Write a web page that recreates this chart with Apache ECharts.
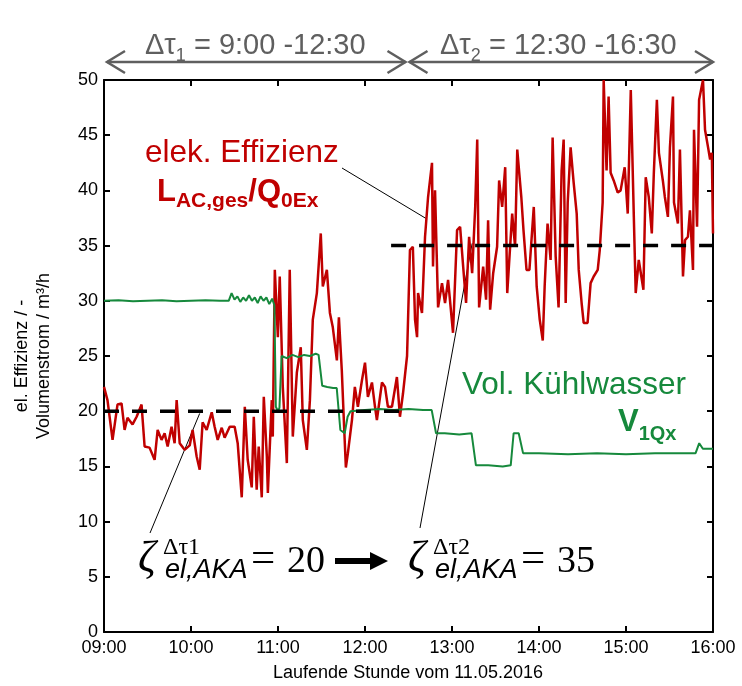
<!DOCTYPE html>
<html>
<head>
<meta charset="utf-8">
<script src="https://cdn.jsdelivr.net/npm/echarts@6/dist/echarts.min.js"></script>
<style>
html,body{margin:0;padding:0;background:#fff;}
#chart{width:742px;height:686px;}
</style>
</head>
<body>
<div id="chart"></div>
<script>
// ---- data ----
const xTickLabels = ['09:00','10:00','11:00','12:00','13:00','14:00','15:00','16:00'];
// minutes after 09:00
const redMin = [0,2.4,5.9,9.3,12.1,14.2,16.2,19.7,22.5,25.9,28,31.4,34.9,37,39.7,41.8,43.9,46.6,48.7,50.1,52.2,55.6,59.1,61.1,63.9,66,68,70.8,74.3,76.3,78.4,81.2,83.2,86.7,90.1,92.2,95,97.1,99.1,101.9,103.3,105.3,106.7,108.8,110.2,112.3,113,115.7,116.4,
117.8,119.9,121.2,123.3,126.1,128.1,130.2,133,135.7,137.1,139.9,142,144,146.8,149.5,150.9,153.7,155.8,157.8,160.6,162,164,165.4,166.8,168.2,171,173,175.1,177.9,180,182,184.8,186.9,188.2,191.7,193.8,195.8,198.6,202,204.1,206.2,
209,211,213,214.5,215.9,216.6,219.3,221.4,223.5,226.2,226.9,228.3,230.4,233.1,235.2,237.3,240.7,243.5,245.6,247.7,249.7,251.8,253.9,256,257.4,258.7,261.5,263.5,264.9,266.3,268.4,271.1,272.5,274.6,
276.7,278.1,281.5,283.5,285,287.8,289.3,291.4,293.4,296.4,298.4,300.5,302.6,303.9,305.9,308,309.4,311.5,313.5,315.6,317,318.4,319.8,321.8,323.9,326,327.4,329.4,330.8,333.5,335.6,337.7,340.5,341.9,343.9,344.6,346.6,348,349.4,351.5,354.3,356.3,359.1,361.2,363.3,365.4,366.7,368.8,372,373.6,375.7,377.8,379.2,381.3,382.7,385.4,386.8,388.9,390.3,392.4,393.1,395.8,397.2,399.3,400.7,402.7,404.1,406.2,406.9,409,410.4,413.1,414.5,416.6,418,419.2,420];
const redVal = [22.2,21.0,17.4,20.6,20.7,18.3,19.4,18.8,19.5,20.6,16.8,16.7,15.6,18.3,17.4,18.0,16.8,18.6,17.1,21.0,17.1,16.5,16.9,18.3,15.9,14.7,19.0,18.3,19.9,18.6,17.4,18.5,17.6,18.6,18.6,17.1,12.2,20.4,15.6,13.1,19.5,12.9,16.8,12.2,21.3,15.9,12.6,21.0,17.7,
32.8,26.7,32.2,22.2,15.3,32.8,17.7,23.5,25.8,19.2,16.5,21.0,28.3,30.7,36.1,31.3,32.8,28.9,27.6,24.6,28.5,23.7,19.2,14.9,16.2,19.2,22.2,20.4,22.8,24.4,21.3,22.6,20.4,19.2,22.6,22.2,20.4,20.4,23.1,19.5,21.6,
25.0,34.6,34.9,28.3,26.7,30.7,28.9,35.8,39.4,42.5,33.1,40.0,29.4,31.6,29.8,31.9,27.1,36.4,36.7,33.1,29.8,35.8,32.5,38.5,44.6,29.4,33.1,30.1,37.3,29.2,32.5,34.9,40.9,38.5,
42.1,30.7,37.9,34.9,43.7,39.4,36.4,32.8,32.8,38.5,31.3,28.3,26.4,31.3,37.0,33.7,44.8,34.0,29.4,41.8,44.6,29.8,38.9,43.9,40.7,37.9,32.8,29.8,28.0,28.0,31.6,32.2,32.8,34.6,38.9,50,41.8,48.5,41.6,40.9,39.8,40.0,42.1,37.9,49.1,37.6,30.7,33.7,31.0,41.2,39.4,36.1,41.6,48.2,43.4,40.9,39.4,37.6,43.9,48.5,38.9,37.0,43.7,32.2,35.5,35.8,38.2,32.8,45.5,36.7,48.2,50,45.5,43.9,42.8,43.4,36.1];

const greenMin = [0,10,20,30,40,50,60,70,80,86,88,90,92,94,96,98,100,102,104,106,108,110,112,114,116,117.5,118.5,120,121,122.5,126,130,134,138,142,146,148,150.5,154,158,160.5,163,166,168,170,180,190,200,210,220,226,229,235,245,253.5,256.5,265,275,280.5,282.5,286,289,300,320,340,360,380,400,408,410.5,413,420];
const greenVal = [30,30.05,29.95,30,30.05,29.95,30,30.05,30,30,30.7,30.1,30.4,29.9,30.3,30.0,30.5,30.0,30.3,29.8,30.4,30.0,30.3,29.7,30.2,29.6,20.4,20.0,20.3,25.0,24.8,25.1,24.9,25.1,25.0,25.2,25.1,22.3,22.2,22.1,22.1,18.3,18.0,19.5,20.0,20.1,20.2,20.1,20.2,20.1,20.1,18.0,18.0,17.9,18.0,15.1,15.1,15.0,15.1,18.0,18.0,16.2,16.2,16.1,16.2,16.1,16.2,16.2,16.2,17.1,16.6,16.6];

const refStart = [0, 198];
const refEnd = [204, 420];
const refVal = [20, 35];

// ---- chart ----
const chart = echarts.init(document.getElementById('chart'), null, {renderer:'canvas'});
const F = 'Liberation Sans, Arial, sans-serif';
const SERIF = 'Liberation Serif, Times New Roman, serif';
const RED = '#c00000', GREEN = '#16893c', GRAY = '#5f5f5f';

const zip = (a,b) => a.map((v,i)=>[v,b[i]]);
const axisCommon = {
  axisLine:{show:true,onZero:false,lineStyle:{color:'#000',width:2}},
  axisTick:{show:true,inside:true,length:6,lineStyle:{color:'#000',width:2}},
  splitLine:{show:false}
};
const refSeries = refVal.map((v,i)=>({
  type:'line', data:[[refStart[i],v],[refEnd[i],v]], showSymbol:false, silent:true,
  lineStyle:{color:'#000',width:3.5,type:[15,13]}, z:5
}));

chart.setOption({
  animation:false,
  grid:{left:104,right:29,top:80,bottom:54,outerBoundsMode:'none'},
  xAxis:[
    Object.assign({type:'value',min:0,max:420,interval:60,position:'bottom',
      axisLabel:{fontFamily:F,fontSize:18,color:'#000',margin:7,formatter:v=>xTickLabels[Math.round(v/60)]}},axisCommon),
    Object.assign({type:'value',min:0,max:420,interval:60,position:'top',axisLabel:{show:false}},axisCommon)
  ],
  yAxis:[
    Object.assign({type:'value',min:0,max:50,interval:5,position:'left',
      axisLabel:{fontFamily:F,fontSize:18,color:'#000',margin:6}},axisCommon),
    Object.assign({type:'value',min:0,max:50,interval:5,position:'right',axisLabel:{show:false}},axisCommon)
  ],
  series:[
    {type:'line',data:zip(redMin,redVal),showSymbol:false,lineStyle:{color:RED,width:2.5},z:2},
    {type:'line',data:zip(greenMin,greenVal),showSymbol:false,lineStyle:{color:GREEN,width:2},z:3}
  ].concat(refSeries)
});

// ---- annotations ----
const mctx = document.createElement('canvas').getContext('2d');
function run(x, baseline, parts){
  const els=[]; let cx=x;
  parts.forEach(p=>{
    const font=`${p.style||'normal'} ${p.weight||'normal'} ${p.size}px ${p.family||F}`;
    mctx.font=font;
    const w=mctx.measureText(p.t).width;
    const by = baseline + (p.dy||0);
    els.push({type:'text',x:cx,y:by-0.3*p.size,silent:true,z:100,
      style:{text:p.t,font:font,fill:p.color,textAlign:'left',textVerticalAlign:'middle',align:'left',verticalAlign:'middle'}});
    cx+=w+(p.after||0);
  });
  return els;
}
const P = (a)=>chart.convertToPixel({xAxisIndex:0,yAxisIndex:0},a);
const g = [];

// top interval arrows
function dblArrow(x1,x2,y){
  const c={stroke:GRAY,lineWidth:2.5,fill:null};
  g.push({type:'line',shape:{x1:x1,y1:y,x2:x2,y2:y},style:c,silent:true});
  g.push({type:'polyline',shape:{points:[[x1+18,y-11],[x1,y],[x1+18,y+11]]},style:c,silent:true});
  g.push({type:'polyline',shape:{points:[[x2-18,y-11],[x2,y],[x2-18,y+11]]},style:c,silent:true});
}
const aL=P([0,50])[0], aM=P([210,50])[0], aR=P([420,50])[0];
dblArrow(aL+3,aM-3,62);
dblArrow(aM+1,aR,62);
g.push(...run(145,55,[{t:'Δτ',size:29,color:GRAY},{t:'1',size:18,color:GRAY,dy:6},{t:' = 9:00 -12:30',size:29,color:GRAY}]));
g.push(...run(440,55,[{t:'Δτ',size:29,color:GRAY},{t:'2',size:18,color:GRAY,dy:6},{t:' = 12:30 -16:30',size:29,color:GRAY}]));

// red label
g.push(...run(145,163,[{t:'elek. Effizienz',size:31.5,color:RED}]));
g.push(...run(157,202,[{t:'L',size:31,weight:'bold',color:RED},{t:'AC,ges',size:21,weight:'bold',color:RED,dy:6},
  {t:'/Q',size:31,weight:'bold',color:RED},{t:'0Ex',size:21,weight:'bold',color:RED,dy:6}]));
// green label
g.push(...run(462,395,[{t:'Vol. Kühlwasser',size:31.5,color:GREEN}]));
g.push(...run(618,432,[{t:'V',size:31,weight:'bold',color:GREEN},{t:'1Qx',size:20,weight:'bold',color:GREEN,dy:8}]));

// leader lines
const lc={stroke:'#000',lineWidth:1};
const e1=P([222.8,37.4]); g.push({type:'line',shape:{x1:342,y1:168,x2:e1[0],y2:e1[1]},style:lc,silent:true});
const e2=P([66,19.8]); g.push({type:'line',shape:{x1:150,y1:533,x2:e2[0],y2:e2[1]},style:lc,silent:true});
const e3=P([253.9,35.2]); g.push({type:'line',shape:{x1:420,y1:528,x2:e3[0],y2:e3[1]},style:lc,silent:true});

// formulas
function formula(x,val){
  g.push(...run(x,573,[{t:'ζ',size:44,style:'italic',family:SERIF,color:'#000'}]));
  g.push(...run(x+25,555,[{t:'Δτ'+val.k,size:24,family:SERIF,color:'#000'}]));
  g.push(...run(x+27,579,[{t:'el,AKA',size:27,style:'italic',color:'#000'}]));
  g.push(...run(x+113,573,[{t:'=',size:43,family:SERIF,color:'#000'}]));
  g.push(...run(x+149,573,[{t:val.v,size:38,family:SERIF,color:'#000'}]));
}
formula(138,{k:'1',v:'20'});
formula(408,{k:'2',v:'35'});
// black arrow
g.push({type:'polygon',shape:{points:[[335,558],[370,558],[370,552],[388,561],[370,570],[370,564],[335,564]]},style:{fill:'#000'},silent:true});

// axis titles
g.push({type:'text',x:22,y:356,rotation:Math.PI/2,silent:true,
  style:{text:'el. Effizienz / -',font:`18px ${F}`,fill:'#000',textAlign:'center',textVerticalAlign:'middle',align:'center',verticalAlign:'middle'}});
g.push({type:'text',x:44,y:356,rotation:Math.PI/2,silent:true,
  style:{text:'Volumenstrom / m³/h',font:`18px ${F}`,fill:'#000',textAlign:'center',textVerticalAlign:'middle',align:'center',verticalAlign:'middle'}});
g.push({type:'text',x:408,y:673,silent:true,
  style:{text:'Laufende Stunde vom 11.05.2016',font:`18px ${F}`,fill:'#000',textAlign:'center',textVerticalAlign:'middle',align:'center',verticalAlign:'middle'}});

chart.setOption({graphic:{elements:g}});
</script>
</body>
</html>
